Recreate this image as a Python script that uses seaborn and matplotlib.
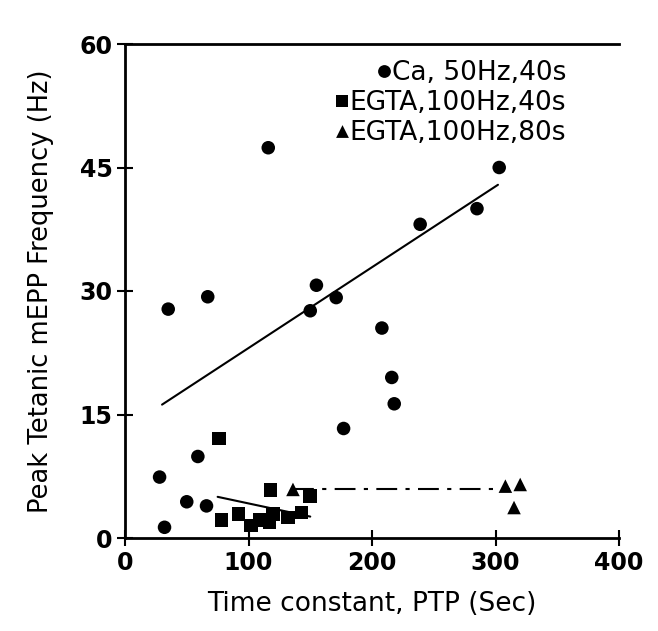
import matplotlib
matplotlib.use("Agg")
import matplotlib.pyplot as plt
import seaborn as sns
import pandas as pd

# ---- data ----
ca_x = [28, 32, 35, 50, 59, 66, 67, 116, 150, 155, 171, 177, 208, 216, 218, 239, 285, 303]
ca_y = [7.4, 1.3, 27.8, 4.4, 9.9, 3.9, 29.3, 47.4, 27.6, 30.7, 29.2, 13.3, 25.5, 19.5, 16.3, 38.1, 40.0, 45.0]

eg40_x = [76, 78, 92, 102, 109, 117, 118, 120, 132, 143, 150]
eg40_y = [12.1, 2.2, 2.9, 1.5, 2.2, 1.9, 5.8, 2.9, 2.5, 3.1, 5.1]

eg80_x = [136, 308, 315, 320]
eg80_y = [5.9, 6.3, 3.7, 6.5]

ca_fit_x = [30, 302]
ca_fit_y = [16.2, 42.9]
eg40_fit_x = [75, 150]
eg40_fit_y = [5.0, 2.6]
eg80_fit_x = [136, 312]
eg80_fit_y = [6.0, 6.0]

labels = ["Ca, 50Hz,40s", "EGTA,100Hz,40s", "EGTA,100Hz,80s"]
x_ticks = [0, 100, 200, 300, 400]
y_ticks = [0, 15, 30, 45, 60]

df = pd.DataFrame({
    "x": ca_x + eg40_x + eg80_x,
    "y": ca_y + eg40_y + eg80_y,
    "group": [labels[0]] * len(ca_x) + [labels[1]] * len(eg40_x) + [labels[2]] * len(eg80_x),
})

sns.set_theme(style="ticks")
plt.rcParams["font.family"] = ["DejaVu Sans"]

fig = plt.figure(figsize=(6.58, 6.31), dpi=100)
ax = fig.add_axes([125 / 658, 93 / 631, 494 / 658, 494 / 631])

mk = {labels[0]: "o", labels[1]: "s", labels[2]: "^"}
sns.scatterplot(data=df, x="x", y="y", style="group", markers=mk,
                color="black", s=95, edgecolor="black", linewidth=0, legend=False, ax=ax, zorder=3)

ax.plot(ca_fit_x, ca_fit_y, color="black", lw=1.5, zorder=2)
ax.plot(eg40_fit_x, eg40_fit_y, color="black", lw=1.5, zorder=2)
ax.plot(eg80_fit_x, eg80_fit_y, color="black", lw=1.5, dashes=(10, 4, 2, 4), zorder=2)

ax.set_xlim(0, 400)
ax.set_ylim(0, 60)
ax.set_xticks(x_ticks)
ax.set_yticks(y_ticks)
ax.tick_params(direction="inout", length=12, width=1.5, labelsize=17, pad=3,
               color="black", labelcolor="black")
for lab in ax.get_xticklabels() + ax.get_yticklabels():
    lab.set_fontweight("bold")

for side in ["left", "bottom", "top"]:
    ax.spines[side].set_linewidth(2)
    ax.spines[side].set_color("black")
ax.spines["right"].set_visible(False)

ax.set_xlabel("Time constant, PTP (Sec)", fontsize=19, labelpad=12, color="black")
ax.set_ylabel("Peak Tetanic mEPP Frequency (Hz)", fontsize=18.5, labelpad=18, color="black")

# legend: right-aligned text with a marker just before each entry
ys = [0.941, 0.881, 0.820]
texts = []
for lab, yy in zip(labels, ys):
    texts.append(ax.text(0.893, yy, lab, transform=ax.transAxes, ha="right", va="center",
                         fontsize=19, color="black"))
fig.canvas.draw()
renderer = fig.canvas.get_renderer()
inv = ax.transAxes.inverted()
for t, lab, yy in zip(texts, labels, ys):
    bb = t.get_window_extent(renderer)
    x_ax, _ = inv.transform((bb.x0 - 8, bb.y0))
    ax.scatter([x_ax], [yy + 0.004], transform=ax.transAxes, marker=mk[lab], s=85,
               color="black", linewidth=0, clip_on=False, zorder=4)

fig.savefig("out.png", dpi=100, facecolor="white")
